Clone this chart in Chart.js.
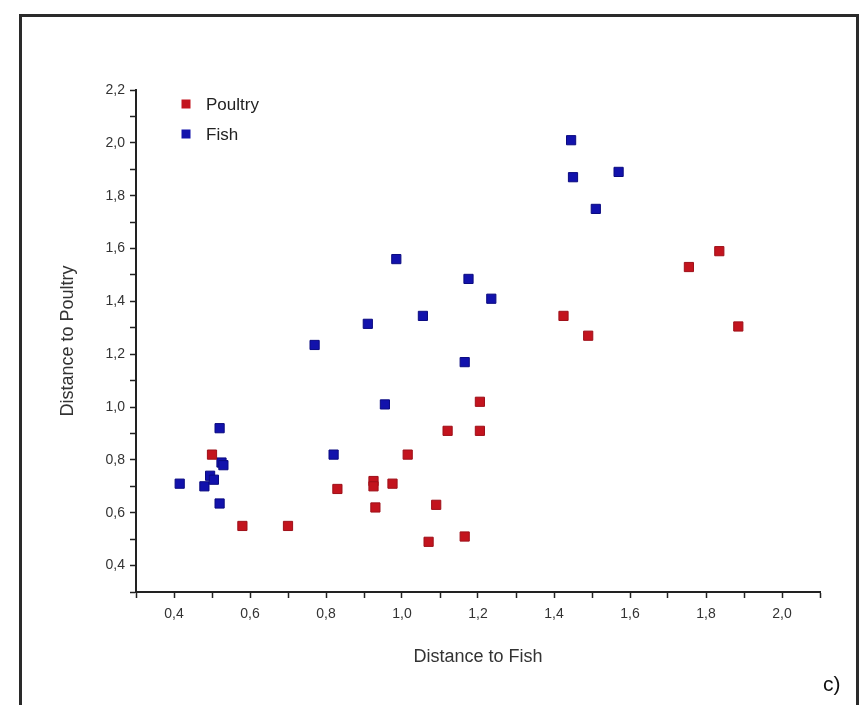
<!DOCTYPE html>
<html>
<head>
<meta charset="utf-8">
<script src="https://cdn.jsdelivr.net/npm/chart.js@4/dist/chart.umd.min.js"></script>
<style>
  html, body { margin: 0; padding: 0; background: #fff; }
  #wrap { position: relative; width: 867px; height: 705px; overflow: hidden; }
  #frame { position: absolute; left: 19px; top: 14px; width: 834px; height: 700px;
           border: 3px solid #2a2a2a; border-bottom: none; }
  #tag { position: absolute; left: 823px; top: 672px; font: 21px "Liberation Sans", Arial, sans-serif; color: #111; }
  canvas { position: absolute; left: 0; top: 0; }
</style>
</head>
<body>
<div id="wrap">
  <div id="frame"></div>
  <canvas id="myChart" width="867" height="705"></canvas>
  <div id="tag">c)</div>
</div>
<script>
// valores
const poultryX = [0.50, 0.58, 0.70, 0.83, 0.925, 0.925, 0.93, 0.975, 1.015, 1.09, 1.07, 1.12, 1.165, 1.205, 1.205, 1.425, 1.49, 1.755, 1.835, 1.885]
const poultryY = [0.82, 0.55, 0.55, 0.69, 0.72, 0.70, 0.62, 0.71, 0.82, 0.63, 0.49, 0.91, 0.51, 1.02, 0.91, 1.345, 1.27, 1.53, 1.59, 1.305]
const fishX = [0.415, 0.48, 0.495, 0.505, 0.525, 0.53, 0.52, 0.52, 0.82, 0.955, 0.985, 1.175, 1.235, 1.055, 0.91, 0.77, 1.165, 1.445, 1.45, 1.57, 1.51]
const fishY = [0.71, 0.70, 0.74, 0.725, 0.79, 0.78, 0.92, 0.635, 0.82, 1.01, 1.56, 1.485, 1.41, 1.345, 1.315, 1.235, 1.17, 2.01, 1.87, 1.89, 1.75]
const seriesNames = ['Poultry', 'Fish']
const xTitle = 'Distance to Fish'
const yTitle = 'Distance to Poultry'

const fonte = '"Liberation Sans", Arial, sans-serif'
const pares = (xs, ys) => xs.map((x, i) => ({x: x, y: ys[i]}))
const rotulo = v => (Math.round(v * 10) % 2 === 0) ? v.toFixed(1).replace('.', ',') : ''

// legenda dentro da área do gráfico
const legendaDentro = {
  id: 'legendaDentro',
  afterDraw(chart) {
    const c = chart.ctx
    const x = chart.chartArea.left + 50
    let y = chart.chartArea.top + 14
    c.save()
    chart.data.datasets.forEach(ds => {
      c.fillStyle = ds.backgroundColor
      c.fillRect(x - 4.5, y - 4.5, 9, 9)
      c.fillStyle = '#222'
      c.font = '17px ' + fonte
      c.textBaseline = 'middle'
      c.fillText(ds.label, x + 20, y + 1)
      y += 30
    })
    c.restore()
  }
}

const ctx = document.getElementById('myChart')
const grafico = new Chart(ctx, {
  type: 'scatter',
  data: {
    datasets: [{
      label: seriesNames[0],
      data: pares(poultryX, poultryY),
      backgroundColor: '#c3141e',
      borderColor: '#9e1019',
      borderWidth: 1,
      pointStyle: 'rect',
      pointRadius: 6.5
    }, {
      label: seriesNames[1],
      data: pares(fishX, fishY),
      backgroundColor: '#1212ac',
      borderColor: '#0a0a80',
      borderWidth: 1,
      pointStyle: 'rect',
      pointRadius: 6.5
    }]
  },
  options: {
    responsive: false,
    animation: false,
    devicePixelRatio: 1,
    layout: { padding: { left: 0, top: 90, right: 47, bottom: 0 } },
    plugins: { legend: { display: false }, tooltip: { enabled: false } },
    scales: {
      x: {
        min: 0.3, max: 2.1,
        afterFit: s => { s.height = 113 },
        border: { color: '#222', width: 2 },
        grid: { drawOnChartArea: false, drawTicks: true, tickLength: 6, color: '#222', tickWidth: 1.5 },
        ticks: { stepSize: 0.1, autoSkip: false, maxRotation: 0, padding: 8, color: '#333',
                 font: { family: fonte, size: 14 }, callback: rotulo },
        title: { display: true, text: xTitle, color: '#333',
                 font: { family: fonte, size: 18 }, padding: { top: 0, bottom: 37 } }
      },
      y: {
        min: 0.3, max: 2.2,
        afterFit: s => { s.width = 136 },
        border: { color: '#222', width: 2 },
        grid: { drawOnChartArea: false, drawTicks: true, tickLength: 6, color: '#222', tickWidth: 1.5 },
        ticks: { stepSize: 0.1, autoSkip: false, padding: 5, color: '#333',
                 font: { family: fonte, size: 14 }, callback: rotulo },
        title: { display: true, text: yTitle, color: '#333',
                 font: { family: fonte, size: 18 }, padding: { top: 57, bottom: 0 } }
      }
    }
  },
  plugins: [legendaDentro]
})
</script>
</body>
</html>
